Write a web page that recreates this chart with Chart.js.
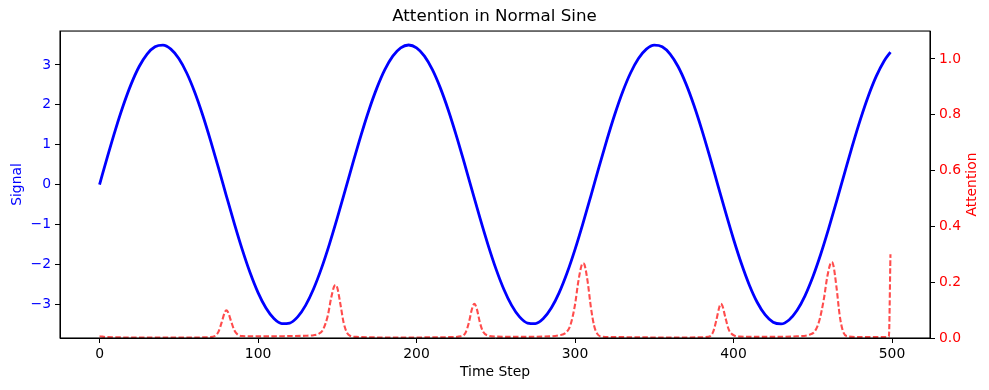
<!DOCTYPE html>
<html>
<head>
<meta charset="utf-8">
<script src="https://cdn.jsdelivr.net/npm/chart.js@4/dist/chart.umd.min.js"></script>
<style>
  body { margin: 0; background: #fff; }
  #wrap { width: 989px; height: 390px; }
</style>
</head>
<body>
<div id="wrap"><canvas id="sineChart" width="989" height="390"></canvas></div>
<script>
// signal, sampled every 5 steps (last point at 499)
const signalSteps = [
  0, 5, 10, 15, 20, 25, 30, 35, 40, 45,
  50, 55, 60, 65, 70, 75, 80, 85, 90, 95,
  100, 105, 110, 115, 120, 125, 130, 135, 140, 145,
  150, 155, 160, 165, 170, 175, 180, 185, 190, 195,
  200, 205, 210, 215, 220, 225, 230, 235, 240, 245,
  250, 255, 260, 265, 270, 275, 280, 285, 290, 295,
  300, 305, 310, 315, 320, 325, 330, 335, 340, 345,
  350, 355, 360, 365, 370, 375, 380, 385, 390, 395,
  400, 405, 410, 415, 420, 425, 430, 435, 440, 445,
  450, 455, 460, 465, 470, 475, 480, 485, 490, 495,
  499
];
const signalValues = [
  0, 0.700, 1.372, 1.988, 2.525, 2.960, 3.273, 3.455, 3.497, 3.398,
  3.162, 2.798, 2.321, 1.750, 1.108, 0.422, -0.282, -0.974, -1.627, -2.214,
  -2.711, -3.099, -3.362, -3.489, -3.474, -3.320, -3.031, -2.620, -2.103, -1.500,
  -0.838, -0.141, 0.561, 1.241, 1.871, 2.424, 2.881, 3.220, 3.429, 3.500,
  3.429, 3.220, 2.881, 2.424, 1.871, 1.241, 0.561, -0.141, -0.838, -1.500,
  -2.103, -2.620, -3.031, -3.320, -3.474, -3.489, -3.362, -3.099, -2.711, -2.214,
  -1.627, -0.974, -0.282, 0.422, 1.108, 1.750, 2.321, 2.798, 3.162, 3.398,
  3.497, 3.455, 3.273, 2.960, 2.525, 1.988, 1.372, 0.700, 0, -0.700,
  -1.372, -1.988, -2.525, -2.960, -3.273, -3.455, -3.497, -3.398, -3.162, -2.798,
  -2.321, -1.750, -1.108, -0.422, 0.282, 0.974, 1.627, 2.214, 2.711, 3.099,
  3.320
];

// attention weights, denser around the bumps
const attnSteps = [
  0, 5, 20, 40, 60, 70, 73, 75, 77, 79, 80, 81, 83, 85, 87, 90,
  100, 110, 120, 130, 135, 138, 141, 144, 146, 148, 149, 150, 152, 154, 156, 158, 162,
  180, 200, 220, 228, 231, 233, 235, 236.5, 238, 240, 242, 245, 250,
  260, 280, 290, 294, 297, 300, 302, 304, 305, 306, 308, 310, 312, 314, 317, 330,
  350, 370, 384, 387, 389, 391, 392, 393, 395, 397, 400, 404, 420, 440, 448,
  451, 454, 457, 459, 461, 462, 463, 465, 467, 469, 472, 480, 490, 498, 499
];
const attnValues = [
  0.006, 0.003, 0.002, 0.002, 0.002, 0.003, 0.008, 0.022, 0.055, 0.092, 0.099, 0.093, 0.060, 0.028, 0.013, 0.007,
  0.006, 0.006, 0.007, 0.008, 0.010, 0.014, 0.030, 0.080, 0.140, 0.185, 0.190, 0.180, 0.120, 0.055, 0.020, 0.008, 0.004,
  0.002, 0.002, 0.003, 0.006, 0.020, 0.055, 0.105, 0.123, 0.105, 0.055, 0.022, 0.009, 0.005,
  0.004, 0.005, 0.010, 0.018, 0.045, 0.120, 0.200, 0.258, 0.268, 0.262, 0.200, 0.110, 0.045, 0.015, 0.005, 0.003,
  0.002, 0.002, 0.004, 0.020, 0.060, 0.110, 0.123, 0.115, 0.070, 0.030, 0.010, 0.005, 0.004, 0.006, 0.012,
  0.022, 0.060, 0.140, 0.215, 0.265, 0.272, 0.260, 0.180, 0.080, 0.025, 0.006, 0.003, 0.003, 0.004, 0.300
];

const xTickStep = 100;
const signalTickStep = 1;
const attnTickStep = 0.2;

const fontFamily = "'DejaVu Sans', sans-serif";
const tickFont = { family: fontFamily, size: 13.9 };

function toPoints(xs, ys) {
  return xs.map(function (x, i) {
    return { x: x, y: ys[i] };
  });
}

// matplotlib draws a full box around the axes,
// and its right-hand label reads bottom to top
const frameBox = {
  id: "frameBox",
  afterDraw: function (chart) {
    const a = chart.chartArea;
    const c = chart.ctx;
    c.save();
    c.strokeStyle = "#000";
    c.lineWidth = 1.1;
    c.strokeRect(a.left, a.top, a.right - a.left, a.bottom - a.top);

    c.translate(972, (a.top + a.bottom) / 2);
    c.rotate(-Math.PI / 2);
    c.fillStyle = "#ff0000";
    c.font = "13.9px " + fontFamily;
    c.textAlign = "center";
    c.textBaseline = "middle";
    c.fillText("Attention", 0, 0);
    c.restore();
  },
};

let ctx = document.getElementById("sineChart").getContext("2d");

let sineChart = new Chart(ctx, {
  type: "line",
  data: {
    datasets: [
      {
        label: "Attention",
        data: toPoints(attnSteps, attnValues),
        yAxisID: "y2",
        borderColor: "rgba(255, 0, 0, 0.7)",
        borderWidth: 2.1,
        borderDash: [5.5, 2.4],
        pointRadius: 0,
        cubicInterpolationMode: "monotone",
        fill: false,
      },
      {
        label: "Signal",
        data: toPoints(signalSteps, signalValues),
        yAxisID: "y",
        borderColor: "#0000ff",
        borderWidth: 2.8,
        pointRadius: 0,
        cubicInterpolationMode: "monotone",
        fill: false,
      },
    ],
  },
  options: {
    responsive: false,
    animation: false,
    layout: { padding: 0 },
    plugins: {
      legend: { display: false },
      tooltip: { enabled: false },
      title: {
        display: true,
        text: "Attention in Normal Sine",
        color: "#000",
        font: { family: fontFamily, size: 16.7, weight: "normal" },
        padding: { top: 7, bottom: 4 },
      },
    },
    scales: {
      x: {
        type: "linear",
        min: -24.95,
        max: 523.95,
        afterFit: function (scale) {
          scale.height = 52;
        },
        grid: {
          display: true,
          drawOnChartArea: false,
          drawTicks: true,
          tickLength: 5,
          color: "#000",
        },
        border: { display: true, color: "#000" },
        ticks: {
          stepSize: xTickStep,
          includeBounds: false,
          color: "#000",
          font: tickFont,
          padding: 3,
          maxRotation: 0,
        },
        title: {
          display: true,
          text: "Time Step",
          color: "#000",
          font: tickFont,
          padding: { top: 0, bottom: 9 },
        },
      },
      y: {
        type: "linear",
        position: "left",
        min: -3.85,
        max: 3.85,
        afterFit: function (scale) {
          scale.width = 60;
        },
        grid: {
          display: true,
          drawOnChartArea: false,
          drawTicks: true,
          tickLength: 5,
          color: "#000",
        },
        border: { display: true, color: "#000" },
        ticks: {
          stepSize: signalTickStep,
          includeBounds: false,
          color: "#0000ff",
          font: tickFont,
          padding: 4,
          callback: function (value) {
            return value < 0 ? "\u2212" + Math.abs(value) : String(value);
          },
        },
        title: {
          display: true,
          text: "Signal",
          color: "#0000ff",
          font: tickFont,
          padding: { top: 9, bottom: 0 },
        },
      },
      y2: {
        type: "linear",
        position: "right",
        min: 0,
        max: 1.1,
        afterFit: function (scale) {
          scale.width = 59;
        },
        grid: {
          display: true,
          drawOnChartArea: false,
          drawTicks: true,
          tickLength: 5,
          color: "#000",
        },
        border: { display: true, color: "#000" },
        ticks: {
          stepSize: attnTickStep,
          includeBounds: false,
          color: "#ff0000",
          font: tickFont,
          padding: 4,
          callback: function (value) {
            return value.toFixed(1);
          },
        },
        title: { display: false },
      },
    },
  },
  plugins: [frameBox],
});
</script>
</body>
</html>
